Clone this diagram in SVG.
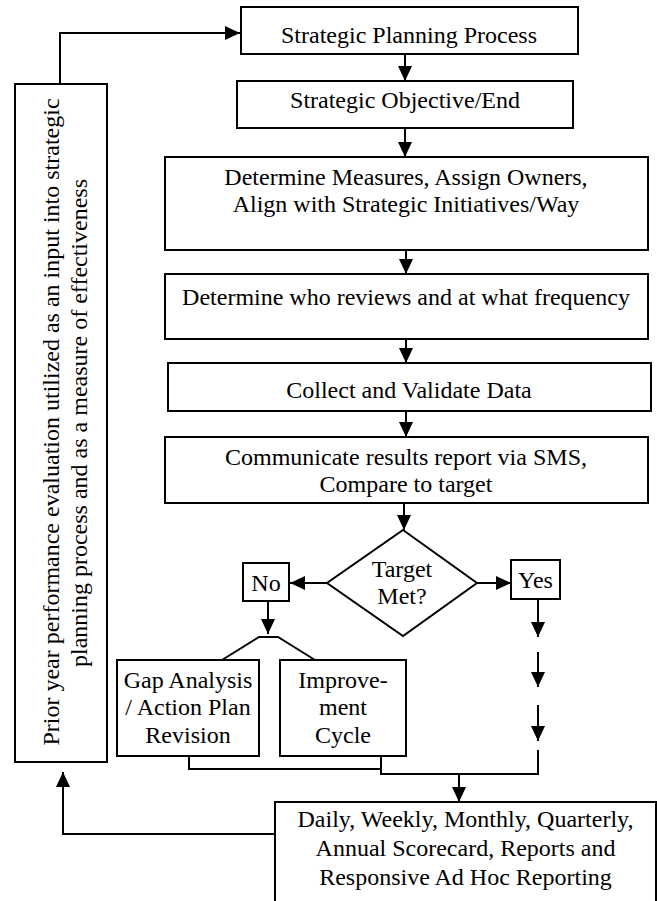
<svg xmlns="http://www.w3.org/2000/svg" width="657" height="901" viewBox="0 0 657 901">
<style>
rect.b, polygon.b { fill: #fff; stroke: #000; stroke-width: 2; }
text { font-family: "Liberation Serif", "Times New Roman", serif; font-size: 24px; fill: #000; text-anchor: middle; }
.c path, .c polyline { fill: none; stroke: #000; stroke-width: 2; }
.c .a { marker-end: url(#ah); }
</style>
<defs>
<marker id="ah" viewBox="0 0 15 14" refX="15" refY="7" markerWidth="15" markerHeight="14" markerUnits="userSpaceOnUse" orient="auto">
<path d="M0,0 L15,7 L0,14 z" fill="#000"/>
</marker>
</defs>
<rect x="0" y="0" width="657" height="901" fill="#fff"/>
<g class="c" id="connectors">
<path class="a" d="M60,84 V33 H240"/>
<path class="a" d="M405,55 V81"/>
<path class="a" d="M405,128 V157"/>
<path class="a" d="M406,250 V274"/>
<path class="a" d="M406,339 V363"/>
<path class="a" d="M406,411 V437"/>
<path class="a" d="M404,503 V530"/>
<path class="a" d="M327,583 H290"/>
<path class="a" d="M477,583 H511"/>
<path class="a" d="M268,601 V634"/>
<polyline points="222,660 259,637 278,637 315,660"/>
<path class="a" d="M538,599 V637"/>
<path class="a" d="M538,652 V687"/>
<path class="a" d="M538,705 V741"/>
<path d="M189,752 V769 H381"/>
<path d="M381,756 V774 H538 V750"/>
<path class="a" d="M459,774 V802"/>
<path class="a" d="M275,834 H63 V772"/>
</g>
<g id="n1"><rect class="b" x="241" y="7" width="337" height="47"/><text x="409" y="43">Strategic Planning Process</text></g>
<g id="n2"><rect class="b" x="237" y="81" width="336" height="47"/><text x="405" y="108">Strategic Objective/End</text></g>
<g id="n3"><rect class="b" x="165" y="157" width="483" height="93"/><text x="406" y="185">Determine Measures, Assign Owners,</text><text x="406" y="212">Align with Strategic Initiatives/Way</text></g>
<g id="n4"><rect class="b" x="165" y="274" width="483" height="65"/><text x="406" y="305">Determine who reviews and at what frequency</text></g>
<g id="n5"><rect class="b" x="168" y="363" width="483" height="48"/><text x="409" y="398">Collect and Validate Data</text></g>
<g id="n6"><rect class="b" x="165" y="437" width="483" height="66"/><text x="406" y="465">Communicate results report via SMS,</text><text x="406" y="492">Compare to target</text></g>
<g id="n7"><polygon class="b" points="403,530 477,583 403,636 327,583"/><text x="402" y="577">Target</text><text x="402" y="604">Met?</text></g>
<g id="n8"><rect class="b" x="243" y="563" width="46" height="38"/><text x="266" y="591">No</text></g>
<g id="n9"><rect class="b" x="511" y="560" width="49" height="39"/><text x="535.5" y="588">Yes</text></g>
<g id="n10"><rect class="b" x="117" y="660" width="142" height="96"/><text x="188" y="688">Gap Analysis</text><text x="188" y="715">/ Action Plan</text><text x="188" y="743">Revision</text></g>
<g id="n11"><rect class="b" x="280" y="660" width="126" height="96"/><text x="343" y="688">Improve-</text><text x="343" y="715">ment</text><text x="343" y="743">Cycle</text></g>
<g id="n12"><rect class="b" x="275" y="802" width="381" height="110"/><text x="465.5" y="827">Daily, Weekly, Monthly, Quarterly,</text><text x="465.5" y="856">Annual Scorecard, Reports and</text><text x="465.5" y="885">Responsive Ad Hoc Reporting</text></g>
<g id="n13"><rect class="b" x="15" y="84" width="92" height="678"/>
<text transform="translate(59,422) rotate(-90)">Prior year performance evaluation utilized as an input into strategic</text>
<text transform="translate(87,423) rotate(-90)">planning process and as a measure of effectiveness</text></g>
</svg>
